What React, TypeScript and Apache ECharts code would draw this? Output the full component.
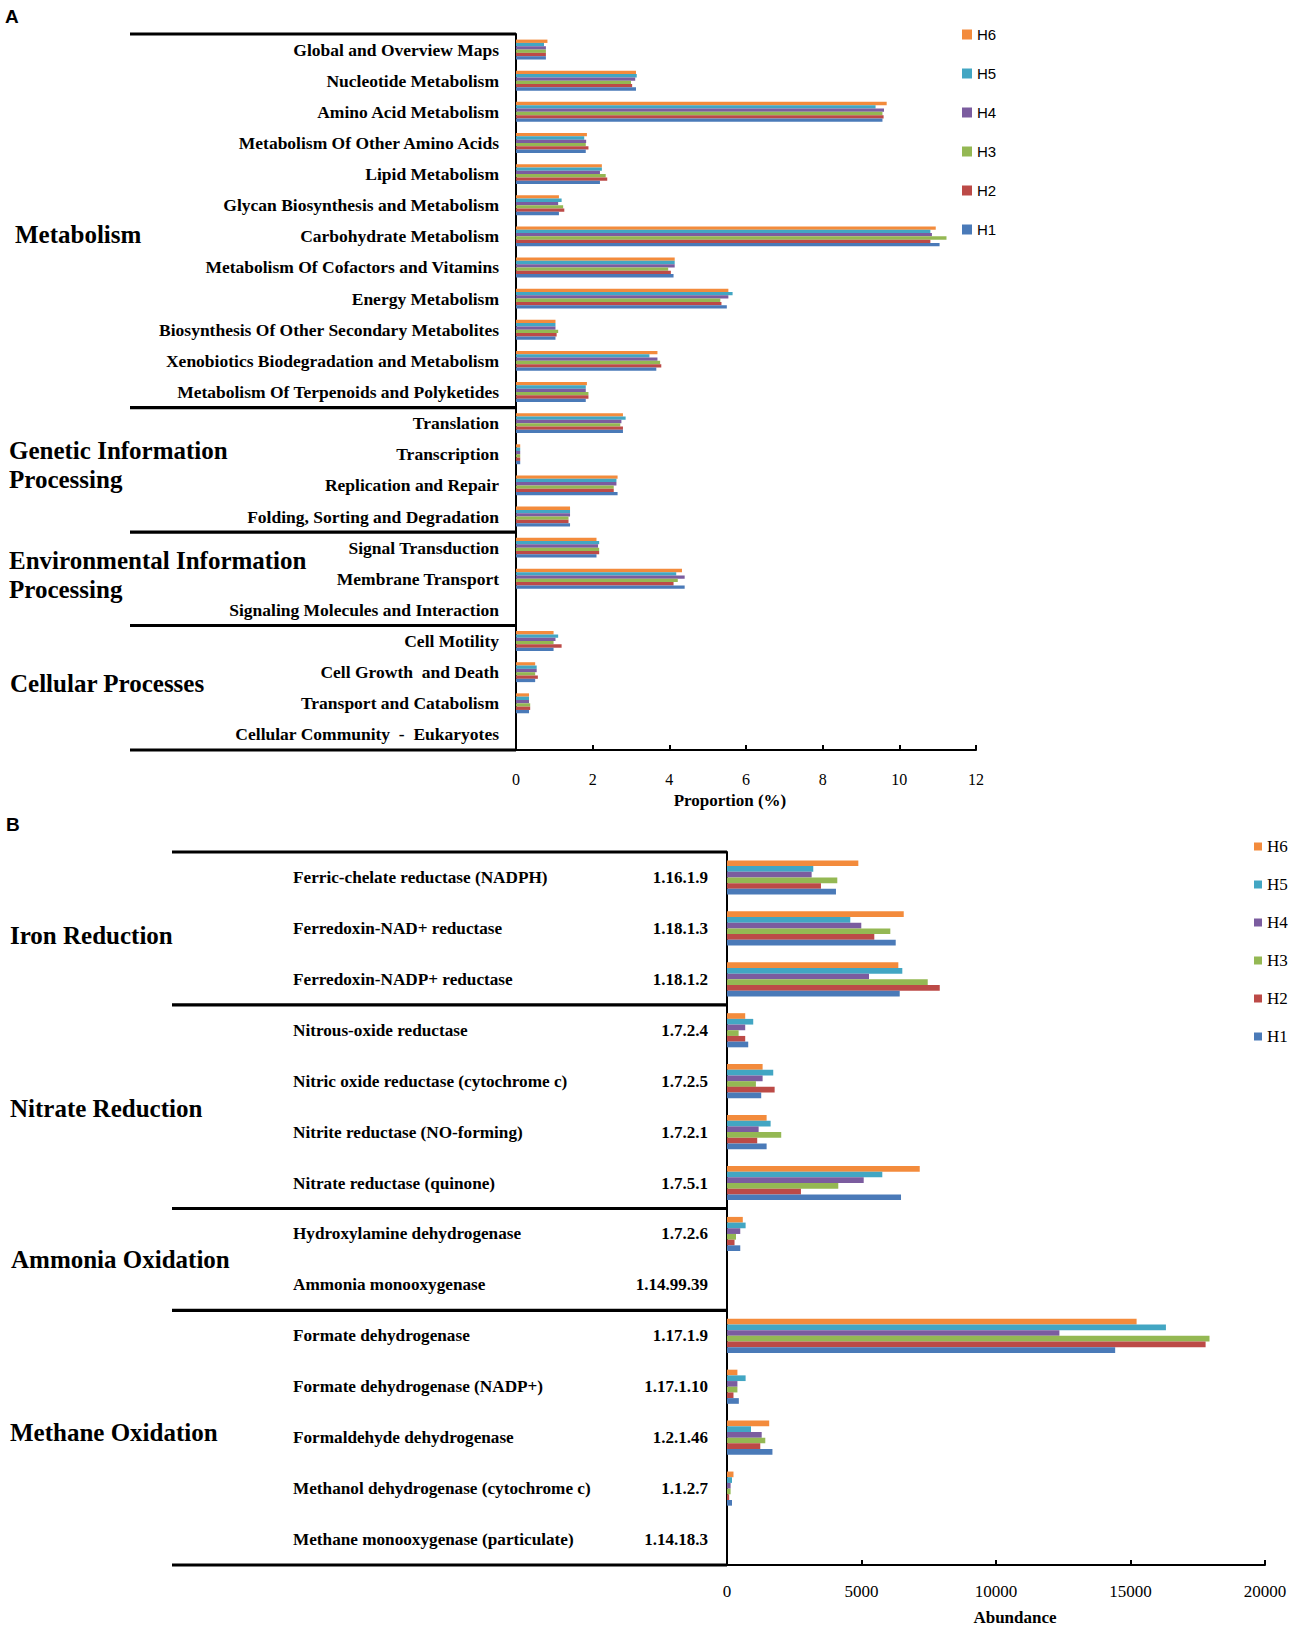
import React, { useEffect, useRef } from "react";
import * as echarts from "echarts";

// ---------- Panel A data ----------
const categoriesA = [
  "Global and Overview Maps",
  "Nucleotide Metabolism",
  "Amino Acid Metabolism",
  "Metabolism Of Other Amino Acids",
  "Lipid Metabolism",
  "Glycan Biosynthesis and Metabolism",
  "Carbohydrate Metabolism",
  "Metabolism Of Cofactors and Vitamins",
  "Energy Metabolism",
  "Biosynthesis Of Other Secondary Metabolites",
  "Xenobiotics Biodegradation and Metabolism",
  "Metabolism Of Terpenoids and Polyketides",
  "Translation",
  "Transcription",
  "Replication and Repair",
  "Folding, Sorting and Degradation",
  "Signal Transduction",
  "Membrane Transport",
  "Signaling Molecules and Interaction",
  "Cell Motility",
  "Cell Growth  and Death",
  "Transport and Catabolism",
  "Cellular Community  -  Eukaryotes",
];
const groupNamesA = ["Metabolism", "Genetic Information\nProcessing", "Environmental Information\nProcessing", "Cellular Processes"];
const groupSizesA = [12, 4, 3, 4];

const h6A = [0.82, 3.13, 9.67, 1.85, 2.24, 1.12, 10.95, 4.14, 5.54, 1.03, 3.69, 1.85, 2.79, 0.11, 2.65, 1.41, 2.1, 4.33, 0, 0.98, 0.5, 0.34, 0];
const h5A = [0.73, 3.15, 9.38, 1.78, 2.24, 1.19, 10.81, 4.14, 5.65, 1.03, 3.48, 1.82, 2.86, 0.11, 2.62, 1.41, 2.17, 4.18, 0, 1.1, 0.54, 0.34, 0];
const h4A = [0.78, 3.11, 9.6, 1.83, 2.19, 1.1, 10.85, 4.14, 5.54, 1.03, 3.69, 1.82, 2.75, 0.11, 2.62, 1.41, 2.14, 4.4, 0, 1.03, 0.54, 0.34, 0];
const h3A = [0.78, 3.0, 9.56, 1.82, 2.34, 1.23, 11.23, 3.97, 5.33, 1.1, 3.76, 1.89, 2.72, 0.11, 2.55, 1.37, 2.17, 4.22, 0, 0.98, 0.5, 0.37, 0];
const h2A = [0.78, 3.03, 9.59, 1.89, 2.38, 1.26, 10.81, 4.04, 5.36, 1.06, 3.79, 1.89, 2.79, 0.11, 2.55, 1.37, 2.17, 4.11, 0, 1.19, 0.57, 0.37, 0];
const h1A = [0.78, 3.13, 9.56, 1.82, 2.19, 1.12, 11.05, 4.11, 5.5, 1.03, 3.66, 1.82, 2.79, 0.11, 2.65, 1.41, 2.1, 4.4, 0, 0.98, 0.5, 0.34, 0];

const axisAMin = 0;
const axisAMax = 12;
const axisAStep = 2;

// ---------- Panel B data ----------
const categoriesB = [
  "Ferric-chelate reductase (NADPH)",
  "Ferredoxin-NAD+ reductase",
  "Ferredoxin-NADP+ reductase",
  "Nitrous-oxide reductase",
  "Nitric oxide reductase (cytochrome c)",
  "Nitrite reductase (NO-forming)",
  "Nitrate reductase (quinone)",
  "Hydroxylamine dehydrogenase",
  "Ammonia monooxygenase",
  "Formate dehydrogenase",
  "Formate dehydrogenase (NADP+)",
  "Formaldehyde dehydrogenase",
  "Methanol dehydrogenase (cytochrome c)",
  "Methane monooxygenase (particulate)",
];
const ecNumbersB = [
  "1.16.1.9", "1.18.1.3", "1.18.1.2", "1.7.2.4", "1.7.2.5", "1.7.2.1", "1.7.5.1",
  "1.7.2.6", "1.14.99.39", "1.17.1.9", "1.17.1.10", "1.2.1.46", "1.1.2.7", "1.14.18.3",
];
const groupNamesB = ["Iron Reduction", "Nitrate Reduction", "Ammonia Oxidation", "Methane Oxidation"];
const groupSizesB = [3, 4, 2, 5];

const h6B = [4882, 6570, 6369, 677, 1324, 1473, 7165, 587, 0, 15227, 387, 1569, 241, 0];
const h5B = [3207, 4583, 6517, 975, 1719, 1622, 5773, 692, 0, 16317, 692, 892, 187, 0];
const h4B = [3147, 4992, 5279, 677, 1324, 1176, 5082, 493, 0, 12357, 387, 1290, 134, 0];
const h3B = [4100, 6071, 7462, 432, 1075, 2016, 4137, 334, 0, 17937, 387, 1423, 134, 0];
const h2B = [3493, 5476, 7909, 677, 1771, 1123, 2749, 280, 0, 17792, 241, 1237, 81, 0];
const h1B = [4051, 6272, 6421, 789, 1272, 1473, 6469, 493, 0, 14430, 440, 1689, 187, 0];

const axisBMin = 0;
const axisBMax = 20000;
const axisBStep = 5000;

const samples = ["H6", "H5", "H4", "H3", "H2", "H1"];
const dataA: Record<string, number[]> = { H6: h6A, H5: h5A, H4: h4A, H3: h3A, H2: h2A, H1: h1A };
const dataB: Record<string, number[]> = { H6: h6B, H5: h5B, H4: h4B, H3: h3B, H2: h2B, H1: h1B };

const colors: Record<string, string> = {
  H6: "#F38B3C",
  H5: "#42A6C3",
  H4: "#7B5C9F",
  H3: "#94B853",
  H2: "#BC4A47",
  H1: "#4A7AB8",
};

const SERIF = '"Liberation Serif", "Times New Roman", serif';
const SANS = '"Liberation Sans", Arial, sans-serif';

const gridA = { left: 516, top: 34, width: 460, height: 716 };
const gridB = { left: 727, top: 852, width: 538, height: 713 };

function groupLines(grid: any, sizes: number[], x0: number) {
  const total = sizes.reduce((a, b) => a + b, 0);
  const rowH = grid.height / total;
  const ys = [grid.top];
  let acc = 0;
  sizes.forEach((n) => {
    acc += n;
    ys.push(grid.top + acc * rowH);
  });
  return ys.map((y) => ({
    type: "line",
    shape: { x1: x0, y1: y, x2: grid.left, y2: y },
    style: { stroke: "#000", lineWidth: 3.2 },
    z: 10,
  }));
}

function txt(text: string, x: number, y: number, font: string, align = "left", lineHeight?: number) {
  return {
    type: "text",
    x,
    y,
    z: 10,
    style: {
      text,
      fill: "#000",
      font,
      textAlign: align,
      textVerticalAlign: "middle",
      lineHeight,
    },
  };
}

function buildOption() {
  const seriesA = samples.map((s) => ({
    type: "bar",
    name: s,
    xAxisIndex: 0,
    yAxisIndex: 0,
    data: dataA[s],
    itemStyle: { color: colors[s] },
    barGap: "0%",
    barCategoryGap: "36%",
  }));
  const seriesB = samples.map((s) => ({
    type: "bar",
    name: s,
    xAxisIndex: 1,
    yAxisIndex: 1,
    data: dataB[s],
    itemStyle: { color: colors[s] },
    barGap: "0%",
    barCategoryGap: "33%",
  }));

  const valueAxisCommon = {
    type: "value",
    axisLine: { show: true, lineStyle: { color: "#000", width: 2 } },
    axisTick: { show: true, inside: true, length: 5, lineStyle: { color: "#000", width: 2 } },
    splitLine: { show: false },
  };

  return {
    animation: false,
    backgroundColor: "#fff",
    grid: [
      { ...gridA, containLabel: false },
      { ...gridB, containLabel: false },
    ],
    xAxis: [
      {
        ...valueAxisCommon,
        gridIndex: 0,
        min: axisAMin,
        max: axisAMax,
        interval: axisAStep,
        axisLabel: { fontFamily: SERIF, fontSize: 16, color: "#000", margin: 21 },
      },
      {
        ...valueAxisCommon,
        gridIndex: 1,
        min: axisBMin,
        max: axisBMax,
        interval: axisBStep,
        axisLabel: {
          fontFamily: SERIF,
          fontSize: 17,
          color: "#000",
          margin: 18,
          formatter: (v: number) => String(v),
        },
      },
    ],
    yAxis: [
      {
        type: "category",
        gridIndex: 0,
        position: "left",
        data: categoriesA,
        inverse: true,
        axisLine: { show: true, lineStyle: { color: "#000", width: 2 } },
        axisTick: { show: false },
        axisLabel: { fontFamily: SERIF, fontWeight: "bold", fontSize: 17.5, color: "#000", margin: 17 },
      },
      {
        type: "category",
        gridIndex: 1,
        position: "left",
        data: categoriesB,
        inverse: true,
        axisLine: { show: true, lineStyle: { color: "#000", width: 2 } },
        axisTick: { show: false },
        axisLabel: {
          fontFamily: SERIF,
          fontWeight: "bold",
          fontSize: 17,
          color: "#000",
          margin: 19,
          formatter: (_v: string, i: number) => ecNumbersB[i],
        },
      },
      {
        type: "category",
        gridIndex: 1,
        position: "left",
        offset: 0,
        data: categoriesB,
        inverse: true,
        axisLine: { show: false },
        axisTick: { show: false },
        axisLabel: {
          fontFamily: SERIF,
          fontWeight: "bold",
          fontSize: 17.2,
          color: "#000",
          margin: 434,
          align: "left",
        },
      },
    ],
    legend: [
      {
        data: samples,
        orient: "vertical",
        left: 957,
        top: 22,
        itemWidth: 10,
        itemHeight: 10,
        itemGap: 24,
        icon: "rect",
        selectedMode: false,
        textStyle: { fontFamily: SANS, fontSize: 15, color: "#000" },
      },
      {
        data: samples,
        orient: "vertical",
        left: 1249,
        top: 833,
        itemWidth: 8,
        itemHeight: 8,
        itemGap: 21,
        icon: "rect",
        selectedMode: false,
        textStyle: { fontFamily: SERIF, fontSize: 17, color: "#000" },
      },
    ],
    graphic: [
      ...groupLines(gridA, groupSizesA, 130),
      ...groupLines(gridB, groupSizesB, 172),
      txt("A", 5, 16, `bold 19px ${SANS}`),
      txt("B", 6, 824, `bold 19px ${SANS}`),
      txt(groupNamesA[0], 15, 234, `bold 25px ${SERIF}`),
      txt(groupNamesA[1], 9, 465, `bold 25px ${SERIF}`, "left", 29.5),
      txt(groupNamesA[2], 9, 575, `bold 25px ${SERIF}`, "left", 29.5),
      txt(groupNamesA[3], 10, 683, `bold 25px ${SERIF}`),
      txt(groupNamesB[0], 10, 935, `bold 25px ${SERIF}`),
      txt(groupNamesB[1], 10, 1108, `bold 25px ${SERIF}`),
      txt(groupNamesB[2], 11, 1259, `bold 25px ${SERIF}`),
      txt(groupNamesB[3], 10, 1432, `bold 25px ${SERIF}`),
      txt("Proportion (%)", 730, 800, `bold 17px ${SERIF}`, "center"),
      txt("Abundance", 1015, 1617, `bold 17px ${SERIF}`, "center"),
    ],
    series: [...seriesA, ...seriesB],
  };
}

export default function App() {
  const ref = useRef<HTMLDivElement>(null);
  useEffect(() => {
    if (!ref.current) return;
    const chart = echarts.init(ref.current, null, { renderer: "svg" });
    chart.setOption(buildOption() as any);
    return () => chart.dispose();
  }, []);
  return (
    <div
      ref={ref}
      style={{ position: "absolute", left: 0, top: 0, width: 1292, height: 1627, background: "#fff" }}
    />
  );
}
